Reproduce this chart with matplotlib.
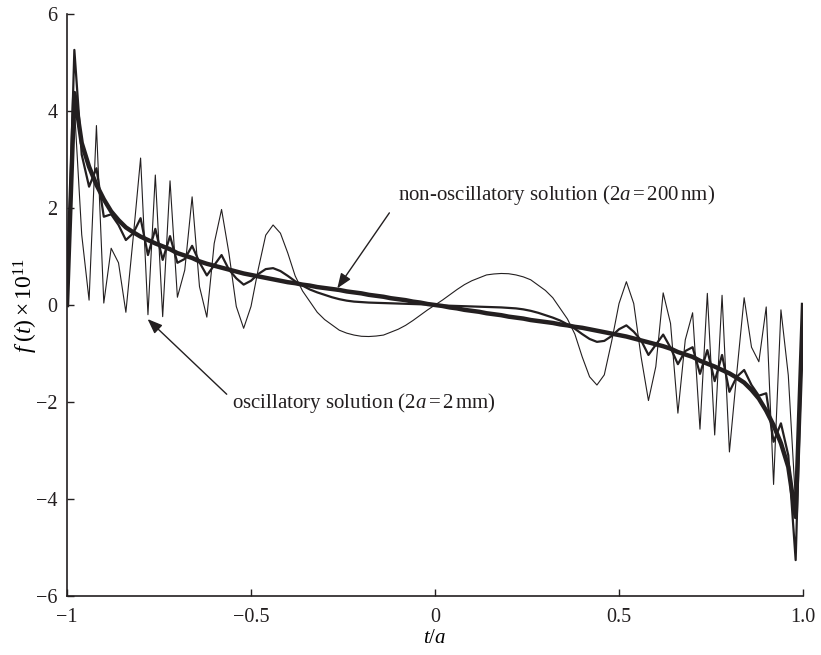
import matplotlib
matplotlib.use("Agg")
import matplotlib.pyplot as plt
import numpy as np

plt.rcParams["font.family"] = ["Liberation Serif", "DejaVu Serif"]
plt.rcParams["mathtext.fontset"] = "custom"
plt.rcParams["mathtext.rm"] = "Liberation Serif"
plt.rcParams["mathtext.it"] = "Liberation Serif:italic"
plt.rcParams["mathtext.bf"] = "Liberation Serif:bold"

# t/a sampled every 0.02 from -1 to 1
t = np.linspace(-1, 1, 101)

# non-oscillatory solution (2a = 200 nm), thick line
smooth = [0.00, 4.37, 3.34, 2.85, 2.48, 2.18, 1.93, 1.75, 1.60, 1.50,
          1.41, 1.34, 1.27, 1.21, 1.15, 1.07, 1.02, 0.97, 0.90, 0.85,
          0.81, 0.77, 0.73, 0.69, 0.65, 0.62, 0.59, 0.56, 0.53, 0.50,
          0.47, 0.45, 0.42, 0.40, 0.37, 0.35, 0.33, 0.31, 0.28, 0.26,
          0.24, 0.21, 0.19, 0.17, 0.14, 0.12, 0.10, 0.07, 0.05, 0.02,
          0.00,
          -0.02, -0.05, -0.07, -0.10, -0.12, -0.14, -0.17, -0.19, -0.21, -0.24,
          -0.26, -0.28, -0.31, -0.33, -0.35, -0.37, -0.40, -0.42, -0.45, -0.47,
          -0.50, -0.53, -0.56, -0.59, -0.62, -0.65, -0.69, -0.73, -0.77, -0.81,
          -0.85, -0.90, -0.97, -1.02, -1.07, -1.15, -1.21, -1.27, -1.34, -1.41,
          -1.50, -1.60, -1.75, -1.93, -2.18, -2.48, -2.85, -3.34, -4.37, 0.00]

# intermediate curve, medium line
medium = [0.00, 5.26, 3.10, 2.44, 2.82, 1.82, 1.87, 1.65, 1.34, 1.48,
          1.79, 1.03, 1.57, 0.93, 1.42, 0.87, 0.95, 1.22, 0.88, 0.61,
          0.82, 1.03, 0.73, 0.55, 0.42, 0.50, 0.64, 0.74, 0.76, 0.70,
          0.60, 0.49, 0.40, 0.32, 0.26, 0.21, 0.16, 0.12, 0.09, 0.07,
          0.06, 0.05, 0.045, 0.04, 0.035, 0.03, 0.025, 0.02, 0.015, 0.01,
          0.00,
          -0.01, -0.015, -0.02, -0.025, -0.03, -0.035, -0.04, -0.045, -0.05, -0.06,
          -0.07, -0.09, -0.12, -0.16, -0.21, -0.26, -0.32, -0.40, -0.49, -0.60,
          -0.70, -0.76, -0.74, -0.64, -0.50, -0.42, -0.55, -0.73, -1.03, -0.82,
          -0.61, -0.88, -1.22, -0.95, -0.87, -1.42, -0.93, -1.57, -1.03, -1.79,
          -1.48, -1.34, -1.65, -1.87, -1.82, -2.82, -2.44, -3.10, -5.26, 0.00]

# oscillatory solution (2a = 2 mm), thin line
oscill = [0.00, 4.10, 1.45, 0.10, 3.70, 0.04, 1.17, 0.87, -0.15, 1.40,
          3.03, -0.20, 2.68, -0.24, 2.56, 0.16, 0.72, 2.23, 0.38, -0.25,
          1.27, 1.97, 1.07, -0.03, -0.48, -0.03, 0.75, 1.44, 1.65, 1.48,
          1.07, 0.60, 0.29, 0.07, -0.15, -0.30, -0.41, -0.52, -0.58, -0.62,
          -0.645, -0.65, -0.64, -0.62, -0.56, -0.50, -0.42, -0.32, -0.21, -0.10,
          0.00,
          0.10, 0.21, 0.32, 0.42, 0.50, 0.56, 0.62, 0.64, 0.65, 0.645,
          0.62, 0.58, 0.52, 0.41, 0.30, 0.15, -0.07, -0.29, -0.60, -1.07,
          -1.48, -1.65, -1.44, -0.75, 0.03, 0.48, 0.03, -1.07, -1.97, -1.27,
          0.25, -0.38, -2.23, -0.72, -0.16, -2.56, 0.24, -2.68, 0.20, -3.03,
          -1.40, 0.15, -0.87, -1.17, -0.04, -3.70, -0.10, -1.45, -4.10, 0.00]

x_ticks = [-1, -0.5, 0, 0.5, 1.0]
x_tick_labels = ["\u22121", "\u22120.5", "0", "0.5", "1.0"]
y_ticks = [-6, -4, -2, 0, 2, 4, 6]

ink = "#231f20"

fig = plt.figure(figsize=(8.21, 6.55), dpi=100)
ax = fig.add_axes([0.0816, 0.0901, 0.8965, 0.8885])

ax.plot(t, oscill, color=ink, linewidth=0.8)
ax.plot(t, medium, color=ink, linewidth=1.6)
ax.plot(t, smooth, color=ink, linewidth=3.2)

ax.set_xlim(-1, 1)
ax.set_ylim(-6, 6)
ax.set_xticks(x_ticks)
ax.set_xticklabels(x_tick_labels)
ax.set_yticks(y_ticks)

for side in ["top", "right"]:
    ax.spines[side].set_visible(False)
for side in ["left", "bottom"]:
    ax.spines[side].set_linewidth(1.2)
    ax.spines[side].set_color(ink)
ax.tick_params(direction="in", length=5, width=1, colors=ink, labelsize=14.5)
ax.tick_params(axis="x", pad=9)
ax.tick_params(axis="y", pad=7)

ax.set_xlabel(r"$t/a$", fontsize=15, labelpad=1)
ax.set_ylabel(r"$f\;(t)\times10^{11}$", fontsize=17, labelpad=-3)

arrow = dict(arrowstyle="-|>,head_length=0.9,head_width=0.35", color=ink,
             linewidth=1.0, shrinkA=0, shrinkB=0)
ax.annotate("", xy=(-0.2655, 0.344), xytext=(-0.124, 1.90), arrowprops=arrow)
ax.text(-0.1005, 2.27, r"non-oscillatory solution (2$a\,$=$\,$200$\,$nm)",
        fontsize=15, va="center", ha="left", color=ink)
ax.annotate("", xy=(-0.781, -0.29), xytext=(-0.566, -1.84), arrowprops=arrow)
ax.text(-0.552, -2.02, r"oscillatory solution (2$a\,$=$\,$2$\,$mm)",
        fontsize=15, va="center", ha="left", color=ink)

fig.savefig("out.png", dpi=100)
